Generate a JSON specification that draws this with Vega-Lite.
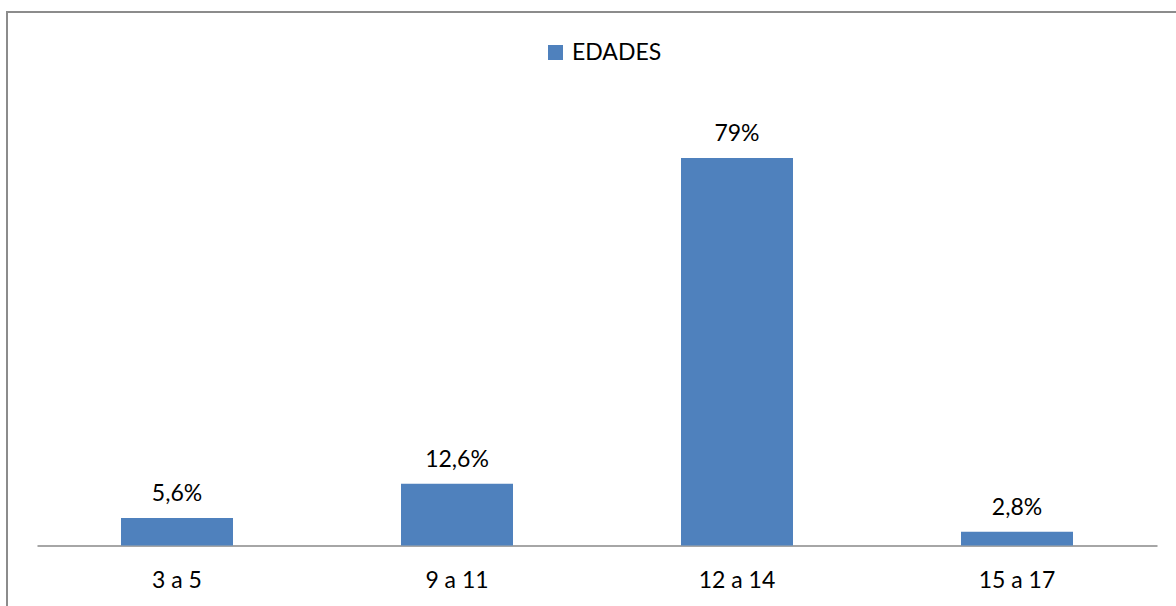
{
  "$schema": "https://vega.github.io/schema/vega-lite/v6.json",
  "autosize": {"type": "none"},
  "padding": {"left": 7, "top": 12, "right": 0, "bottom": 0},
  "width": 1180,
  "height": 600,
  "background": "white",
  "config": {
    "view": {"stroke": "#8c8c8c", "strokeWidth": 2},
    "font": "Lato"
  },
  "data": {
    "values": [
      {"edad": "3 a 5", "valor": 5.6, "etiqueta": "5,6%", "serie": "EDADES"},
      {"edad": "9 a 11", "valor": 12.6, "etiqueta": "12,6%", "serie": "EDADES"},
      {"edad": "12 a 14", "valor": 79, "etiqueta": "79%", "serie": "EDADES"},
      {"edad": "15 a 17", "valor": 2.8, "etiqueta": "2,8%", "serie": "EDADES"}
    ]
  },
  "encoding": {
    "x": {
      "field": "edad",
      "type": "nominal",
      "sort": null,
      "scale": {"range": [30, 1150], "paddingInner": 0.6, "paddingOuter": 0.3},
      "axis": {
        "title": null,
        "labelAngle": 0,
        "ticks": false,
        "domainColor": "#898989",
        "domainWidth": 1.7,
        "offset": -66.5,
        "labelFont": "Lato",
        "labelFontSize": 23,
        "labelColor": "#000000",
        "labelBaseline": "alphabetic",
        "labelPadding": 42
      }
    },
    "y": {
      "field": "valor",
      "type": "quantitative",
      "scale": {"domain": [0, 79], "range": [533.5, 146], "nice": false, "zero": true},
      "axis": null
    }
  },
  "layer": [
    {
      "mark": {"type": "bar"},
      "encoding": {
        "color": {
          "field": "serie",
          "type": "nominal",
          "scale": {"range": ["#4f81bd"]},
          "legend": {
            "title": null,
            "orient": "none",
            "legendX": 537,
            "legendY": 29,
            "symbolType": "square",
            "symbolSize": 225,
            "symbolStrokeWidth": 0,
            "labelFont": "Lato",
            "labelFontSize": 23,
            "labelColor": "#000000",
            "labelOffset": 5
          }
        }
      }
    },
    {
      "mark": {"type": "text", "baseline": "alphabetic", "dy": -17, "font": "Lato", "fontSize": 23, "color": "#000000"},
      "encoding": {"text": {"field": "etiqueta", "type": "nominal"}}
    }
  ]
}
